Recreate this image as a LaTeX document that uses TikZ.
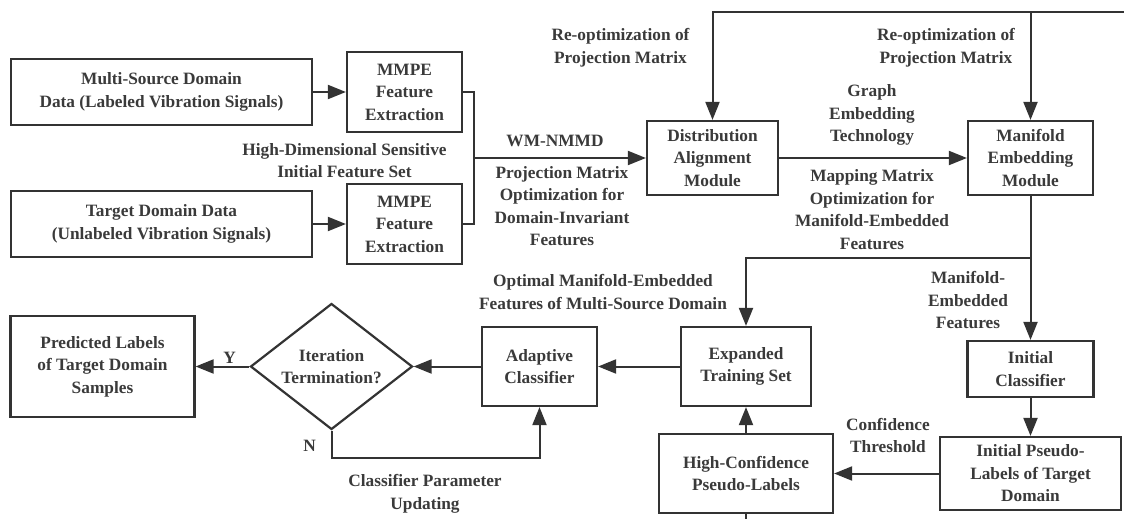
\documentclass[tikz,border=0pt]{standalone}
\usepackage{fontspec}
\setmainfont{Liberation Serif}
\usetikzlibrary{arrows.meta,shapes.geometric}
\definecolor{ink}{HTML}{333333}
\definecolor{txt}{HTML}{3A3A3A}
\newcommand{\lblfont}{\fontsize{17.3}{22.5}\selectfont\bfseries}

\begin{document}
\begin{tikzpicture}[x=1pt,y=-1pt,
  box/.style={draw=ink, line width=2.2pt, align=center, inner sep=0pt,
              text=txt, font=\lblfont, fill=white},
  lbl/.style={align=center, inner sep=0pt, text=txt, font=\lblfont},
  link/.style={draw=ink, line width=2pt},
  arr/.style={link, -{Triangle[length=18pt,width=14pt]}}
]
% canvas
\fill[white] (0,0) rectangle (1124,519);
\useasboundingbox (0,0) rectangle (1124,519);

% input data and feature extraction
\node[box, minimum width=301, minimum height=66] (ms) at (161.5,92)
  {Multi-Source Domain\\Data (Labeled Vibration Signals)};
\node[box, minimum width=301, minimum height=66] (td) at (161.5,224)
  {Target Domain Data\\(Unlabeled Vibration Signals)};
\node[box, minimum width=115, minimum height=80] (mm1) at (404.5,92)
  {MMPE\\Feature\\Extraction};
\node[box, minimum width=115, minimum height=80] (mm2) at (404.5,224)
  {MMPE\\Feature\\Extraction};

% alignment and embedding modules
\node[box, minimum width=131, minimum height=74] (da) at (712.5,158)
  {Distribution\\Alignment\\Module};
\node[box, minimum width=125, minimum height=74] (me) at (1030.5,158)
  {Manifold\\Embedding\\Module};

% classification stage
\node[box, minimum width=126, minimum height=56] (ic) at (1030.5,369)
  {Initial\\Classifier};
\node[box, minimum width=181, minimum height=73] (ipl) at (1030.5,473.5)
  {Initial Pseudo-\\Labels of Target\\Domain};
\node[box, minimum width=174, minimum height=79] (hc) at (746,473.5)
  {High-Confidence\\Pseudo-Labels};
\node[box, minimum width=130, minimum height=79] (ex) at (746,366.5)
  {Expanded\\Training Set};
\node[box, minimum width=115, minimum height=79] (ac) at (539.5,366.5)
  {Adaptive\\Classifier};
\node[diamond, draw=ink, line width=2.2pt, minimum width=162, minimum height=126,
      inner sep=0pt] (dm) at (331.5,366.5) {};
\node[lbl] (dmt) at (dm.center) {Iteration\\Termination?};
\node[box, minimum width=184, minimum height=101] (pl) at (102.5,366.5)
  {Predicted Labels\\of Target Domain\\Samples};

% routing points
\coordinate (j) at (474,158);
\coordinate (topR) at (1124,12);
\coordinate (split) at (1030.5,258);
\coordinate (nloop) at (331.5,458);
\coordinate (hcOut) at (746,519);

% connectors
\draw[arr] (ms) -- (mm1);
\draw[arr] (td) -- (mm2);
\draw[link] (mm1.east) -| (j) |- (mm2.east);
\draw[arr] (j) -- (da);
\draw[arr] (da) -- (me);
\draw[arr] (topR) -| (da.north);
\draw[arr] (topR -| me.north) -- (me.north);
\draw[arr] (me.south) -- (split) -| (ex.north);
\draw[arr] (split) -- (ic.north);
\draw[arr] (ic) -- (ipl);
\draw[arr] (ipl) -- (hc);
\draw[arr] (hc) -- (ex);
\draw[link] (hc.south) -- (hcOut);
\draw[arr] (ex) -- (ac);
\draw[arr] (ac) -- (dm.east);
\draw[arr] (dm.west) -- (pl.east);
\draw[arr] (dm.south) -- (nloop) -| (ac.south);

% annotations
\node[lbl] (l1) at (344.5,160.5) {High-Dimensional Sensitive\\Initial Feature Set};
\node[lbl] (l2) at (555,141) {WM-NMMD};
\node[lbl] (l3) at (562,206) {Projection Matrix\\Optimization for\\Domain-Invariant\\Features};
\node[lbl] (l4) at (620.5,48) {Re-optimization of\\Projection Matrix};
\node[lbl] (l5) at (946,48) {Re-optimization of\\Projection Matrix};
\node[lbl] (l6) at (872,115) {Graph\\Embedding\\Technology};
\node[lbl] (l7) at (872,209.5) {Mapping Matrix\\Optimization for\\Manifold-Embedded\\Features};
\node[lbl] (l8) at (603,292) {Optimal Manifold-Embedded\\Features of Multi-Source Domain};
\node[lbl] (l9) at (968,300.5) {Manifold-\\Embedded\\Features};
\node[lbl] (l10) at (888,435.5) {Confidence\\Threshold};
\node[lbl] (l11) at (229.5,357.5) {Y};
\node[lbl] (l12) at (309.5,446) {N};
\node[lbl] (l13) at (425,494) {Classifier Parameter\\Updating};
\end{tikzpicture}
\end{document}
